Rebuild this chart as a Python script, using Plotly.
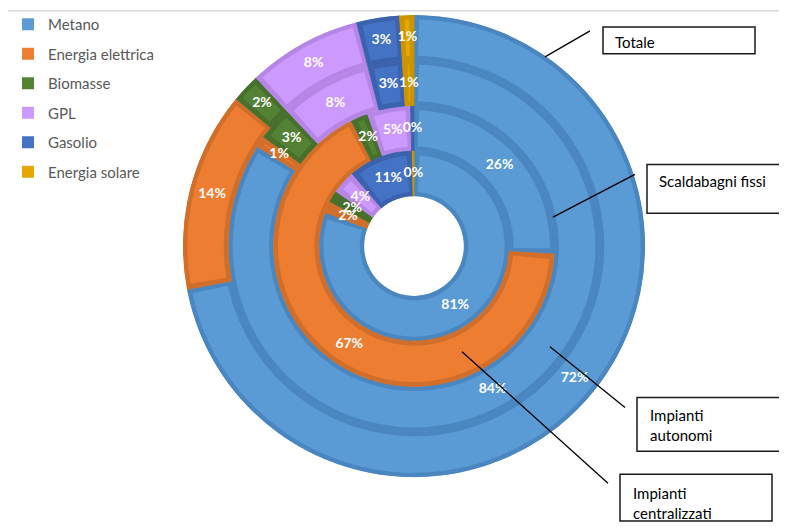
import math
import plotly.graph_objects as go

# The page body adds an 8px margin, so the figure is sized to fill the rest of the 787x527 window
OFF = 8
W, H = 787 - OFF, 527 - OFF

# ---------------- data ----------------
rings = ["Impianti centralizzati", "Scaldabagni fissi", "Impianti autonomi", "Totale"]  # inner -> outer
fuels = ["Metano", "Energia elettrica", "Biomasse", "GPL", "Gasolio", "Energia solare"]
metano = [81, 26, 84, 72]
energia_elettrica = [2, 67, 1, 14]
biomasse = [2, 2, 3, 2]
gpl = [4, 5, 8, 8]
gasolio = [11, 0.4, 3, 3]
energia_solare = [0.3, 0, 1, 1]
values = [metano, energia_elettrica, biomasse, gpl, gasolio, energia_solare]

fill_colors = ["#5B9BD5", "#ED7D31", "#548235", "#CC99FF", "#4472C4", "#E6A800"]
edge_colors = ["#4A86C0", "#D06E2A", "#46702B", "#B686E6", "#3A62AD", "#CC9500"]

# ---------------- geometry (window pixels) ----------------
CX, CY = 414, 245
R_OUT, R_HOLE = 232, 50
BORDER = 4.5
n_rings = len(rings)
ring_w_px = (R_OUT - R_HOLE) / n_rings
dr = BORDER / ring_w_px

totals = [sum(v[j] for v in values) for j in range(n_rings)]
centers = [[0.0] * n_rings for _ in fuels]
widths = [[0.0] * n_rings for _ in fuels]
for j in range(n_rings):
    cum = 0.0
    for i, v in enumerate(values):
        w = v[j] / totals[j] * 360.0
        centers[i][j] = cum + w / 2
        widths[i][j] = w
        cum += w

fig = go.Figure()
ring_idx = list(range(n_rings))
for i, name in enumerate(fuels):
    # darker outline layer (full cell)
    fig.add_trace(go.Barpolar(
        theta=centers[i], width=widths[i], base=ring_idx, r=[1] * n_rings,
        marker=dict(color=edge_colors[i], line=dict(color=edge_colors[i], width=0.8)),
        name=name, legendgroup=name, showlegend=False, hoverinfo="skip",
    ))
    # inner fill layer (inset)
    fw = []
    for j in range(n_rings):
        r_mid = R_HOLE + (j + 0.5) * ring_w_px
        dth = math.degrees(BORDER / r_mid)
        fw.append(max(widths[i][j] - 2 * dth, 0.0))
    fig.add_trace(go.Barpolar(
        theta=centers[i], width=fw, base=[j + dr for j in ring_idx], r=[1 - 2 * dr] * n_rings,
        marker=dict(color=fill_colors[i], line=dict(width=0)),
        name=name, legendgroup=name, showlegend=True,
    ))

# percentage labels (slices with a value)
lab_r, lab_t, lab_s = [], [], []
for i, v in enumerate(values):
    for j in range(n_rings):
        if v[j] <= 0:
            continue
        lab_r.append(j + 0.5)
        lab_t.append(centers[i][j])
        lab_s.append(f"{round(v[j])}%")
fig.add_trace(go.Scatterpolar(
    r=lab_r, theta=lab_t, text=lab_s, mode="text",
    textfont=dict(family="Lato", size=14, color="white", weight="bold"),
    showlegend=False, hoverinfo="skip",
))


def px(x):
    return (x - OFF) / W


def py(y):
    return 1 - (y - OFF) / H


shapes = []
shapes.append(dict(type="line", xref="paper", yref="paper", x0=0, x1=1, y0=py(8.8), y1=py(8.8),
                   line=dict(color="#D9D9D9", width=1.5)))

boxes = [(603, 25, 755, 52), (647, 163, 800, 212), (637, 397, 800, 451), (620, 474, 772, 521)]
for (x0, y0, x1, y1) in boxes:
    shapes.append(dict(type="rect", xref="paper", yref="paper", x0=px(x0), x1=px(x1), y0=py(y1), y1=py(y0),
                       line=dict(color="#1a1a1a", width=1.5), fillcolor="white"))
leaders = [(590, 29, 545, 55), (635, 173, 553, 216), (550, 346, 625, 407), (462, 351, 608, 483)]
for (x0, y0, x1, y1) in leaders:
    shapes.append(dict(type="line", xref="paper", yref="paper", x0=px(x0), x1=px(x1), y0=py(y0), y1=py(y1),
                       line=dict(color="black", width=1.3)))

callouts = [("Totale", 613, 40), ("Scaldabagni fissi", 657, 180),
            ("Impianti<br>autonomi", 648, 425), ("Impianti<br>centralizzati", 631, 503)]
annotations = []
for (t, x, y) in callouts:
    annotations.append(dict(text=t, xref="paper", yref="paper", x=px(x), y=py(y), xanchor="left",
                            yanchor="middle", align="left", showarrow=False,
                            font=dict(family="Lato", size=15, color="black")))

fig.update_layout(
    width=W, height=H,
    margin=dict(l=0, r=0, t=0, b=0),
    paper_bgcolor="white", plot_bgcolor="white",
    polar=dict(
        domain=dict(x=[px(CX - R_OUT), px(CX + R_OUT)], y=[py(CY + R_OUT), py(CY - R_OUT)]),
        hole=R_HOLE / R_OUT,
        bgcolor="rgba(0,0,0,0)",
        bargap=0,
        radialaxis=dict(visible=False, range=[0, n_rings]),
        angularaxis=dict(visible=False, rotation=90, direction="clockwise"),
    ),
    legend=dict(x=0, y=py(6), xanchor="left", yanchor="top", traceorder="grouped",
                tracegroupgap=7, font=dict(family="Lato", size=15, color="#595959"),
                bgcolor="rgba(0,0,0,0)"),
    shapes=shapes,
    annotations=annotations,
    showlegend=True,
)

fig.write_html("out.html")
